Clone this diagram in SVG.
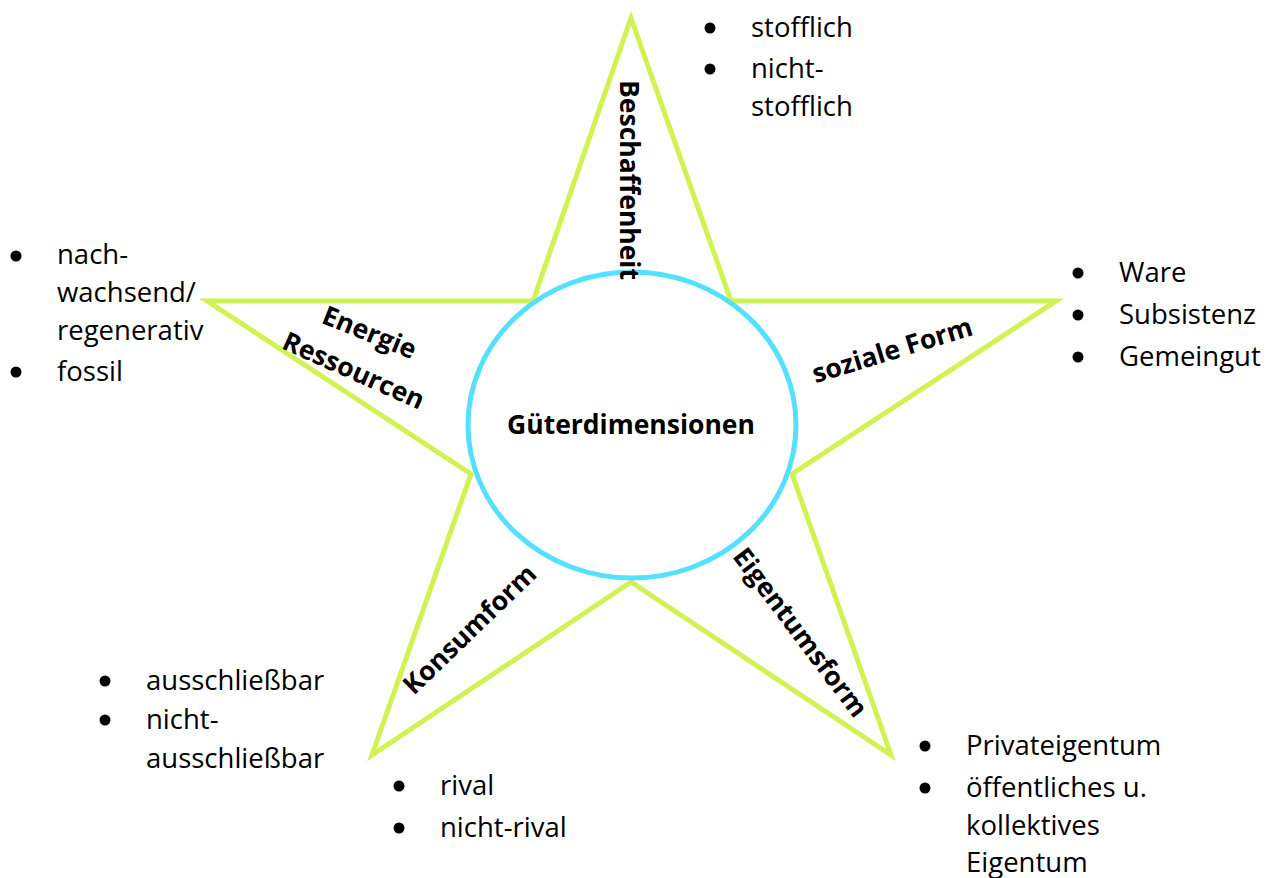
<svg xmlns="http://www.w3.org/2000/svg" width="1275" height="878" viewBox="0 0 1275 878">
<style>
.t{font-family:"Open Sans","Liberation Sans",sans-serif;font-size:27.5px;fill:#000}
.b{font-family:"Open Sans","Liberation Sans",sans-serif;font-size:26.5px;font-weight:bold;fill:#000}
.star{fill:none;stroke:#d2f152;stroke-width:5;stroke-linejoin:miter}
.ring{fill:#fff;stroke:#55e0ff;stroke-width:5}
</style>
<rect width="1275" height="878" fill="#fff"/>
<g id="connectors">
<polygon class="star" points="631,18 731,301 1056,301 792,474 891,755 631,582 372,755 471,474 207,301 533,301"/>
</g>
<g id="center">
<ellipse class="ring" cx="632" cy="425" rx="164" ry="153"/>
<text class="b" x="631" y="434" text-anchor="middle">Güterdimensionen</text>
</g>
<g id="beschaffenheit">
<text class="b" transform="translate(620,180) rotate(90)" text-anchor="middle">Beschaffenheit</text>
<circle cx="710" cy="28" r="5.5"/><text class="t" x="751" y="37">stofflich</text>
<circle cx="710" cy="69" r="5.5"/><text class="t" x="751" y="78">nicht-</text>
<text class="t" x="751" y="116">stofflich</text>
</g>
<g id="energie">
<text class="b" transform="translate(366,341) rotate(22)" text-anchor="middle">Energie</text>
<text class="b" transform="translate(350,379) rotate(24)" text-anchor="middle">Ressourcen</text>
<circle cx="16" cy="256" r="5.5"/><text class="t" x="57" y="264">nach-</text>
<text class="t" x="57" y="302">wachsend/</text>
<text class="t" x="57" y="340">regenerativ</text>
<circle cx="16" cy="372" r="5.5"/><text class="t" x="57" y="381">fossil</text>
</g>
<g id="soziale-form">
<text class="b" transform="translate(895,359) rotate(-17)" text-anchor="middle">soziale Form</text>
<circle cx="1078" cy="273" r="5.5"/><text class="t" x="1119" y="282">Ware</text>
<circle cx="1078" cy="315" r="5.5"/><text class="t" x="1119" y="324">Subsistenz</text>
<circle cx="1078" cy="357" r="5.5"/><text class="t" x="1119" y="366">Gemeingut</text>
</g>
<g id="konsumform">
<text class="b" transform="translate(476,636) rotate(-44)" text-anchor="middle">Konsumform</text>
<circle cx="105" cy="681" r="5.5"/><text class="t" x="146" y="690">ausschließbar</text>
<circle cx="105" cy="720" r="5.5"/><text class="t" x="146" y="729">nicht-</text>
<text class="t" x="146" y="768">ausschließbar</text>
<circle cx="399" cy="786" r="5.5"/><text class="t" x="440" y="795">rival</text>
<circle cx="399" cy="828" r="5.5"/><text class="t" x="440" y="837">nicht-rival</text>
</g>
<g id="eigentumsform">
<text class="b" transform="translate(793,638) rotate(53)" text-anchor="middle">Eigentumsform</text>
<circle cx="925" cy="746" r="5.5"/><text class="t" x="966" y="755">Privateigentum</text>
<circle cx="925" cy="788" r="5.5"/><text class="t" x="966" y="797">öffentliches u.</text>
<text class="t" x="966" y="835">kollektives</text>
<text class="t" x="966" y="872">Eigentum</text>
</g>
</svg>
